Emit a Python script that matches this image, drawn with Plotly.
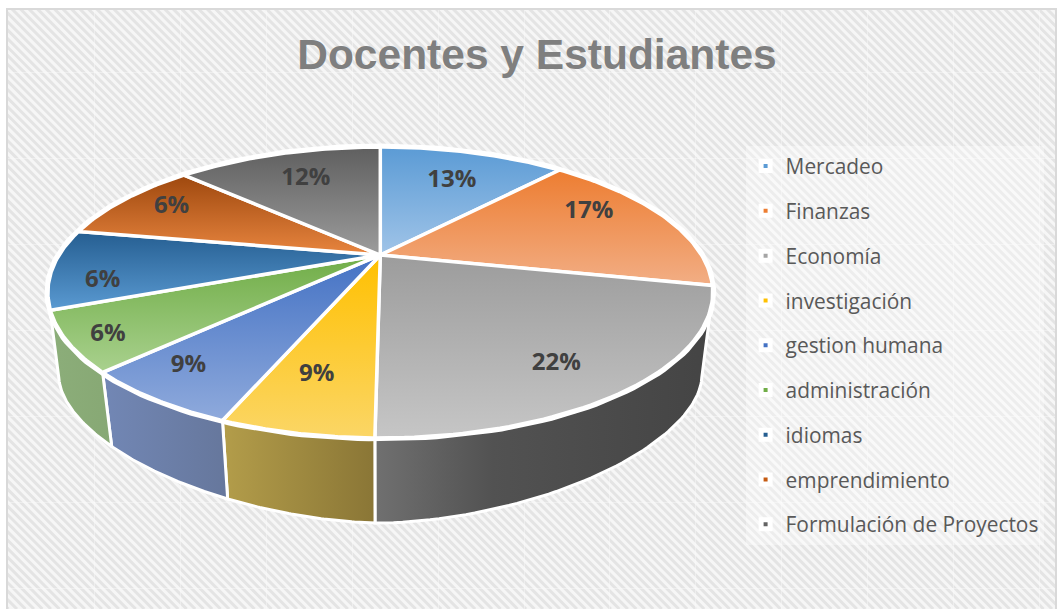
import math
import plotly.graph_objects as go

# Category names and the percentages printed on the chart
categories = ["Mercadeo", "Finanzas", "Economía", "investigación", "gestion humana",
              "administración", "idiomas", "emprendimiento", "Formulación de Proyectos"]
printed_percent = [13, 17, 22, 9, 9, 6, 6, 6, 12]
# Wedge sizes as drawn in the picture, un-projected (they differ from the printed labels)
drawn_share = [11.6, 16.8, 21.8, 5.9, 6.4, 6.5, 8.9, 9.3, 12.8]

legend_colors = ["#5b9bd5", "#ed7d31", "#a5a5a5", "#ffc000", "#4472c4",
                 "#70ad47", "#255e91", "#c55a11", "#636363"]
top_dark = ["#5b9bd5", "#ed7d31", "#9c9c9c", "#ffc000", "#4472c4",
            "#70ad47", "#255e91", "#9e480e", "#5f5f5f"]
top_light = ["#a0c4e8", "#f2ae85", "#c6c6c6", "#fbd666", "#8faadc",
             "#a9d18e", "#5a9ad2", "#e8853f", "#9c9c9c"]
wall_left = {2: "#707070", 3: "#b39d4a", 4: "#7287b5", 5: "#8cae7a"}
wall_right = {2: "#444444", 3: "#8a7636", 4: "#66779c", 5: "#87a874"}

# Projection of the disc (screen units)
W, H = 1057, 609
CX, CY = 381.0, 255.0
PERSP = 0.2577
SX, SY = 321.8, 135.8
BOTTOM_X_SCALE = 0.967
BOTTOM_A, BOTTOM_B, BOTTOM_CY, BOTTOM_N = 322.0, 145.0, 378.0, 1.75
SILHOUETTE_R, SILHOUETTE_L = 105.0, 255.0

LABEL_NUDGE = [(3, 2), (6, -15), (13, 22), (-10, 7), (-46, 18), (-64, 22), (-50, 17), (-24, -8), (1, -1)]


def proj(theta_deg, r=1.0):
    t = math.radians(theta_deg)
    u, v = r * math.sin(t), r * math.cos(t)
    w = 1 + PERSP * v
    return CX + SX * u / w, CY - SY * v / w


def bottom_of(theta_deg):
    x, _ = proj(theta_deg)
    dx = (x - CX) * BOTTOM_X_SCALE
    f = min(abs(dx) / BOTTOM_A, 1.0)
    return CX + dx, BOTTOM_CY + BOTTOM_B * (1 - f ** BOTTOM_N) ** (1 / BOTTOM_N)


def arc(a, b, n=60):
    return [a + (b - a) * i / n for i in range(n + 1)]


total = sum(drawn_share)
edges = [0.0]
for s in drawn_share:
    edges.append(edges[-1] + 360.0 * s / total)

fig = go.Figure()

# Side walls of the front slices
for i in wall_left:
    a = max(edges[i], SILHOUETTE_R)
    b = SILHOUETTE_L if i == max(wall_left) else edges[i + 1]
    top = [proj(t) for t in arc(a, b)]
    bot = [bottom_of(t) for t in arc(b, a)]
    pts = top + bot + top[:1]
    fig.add_trace(go.Scatter(
        x=[p[0] for p in pts], y=[p[1] for p in pts], mode="lines", fill="toself",
        line=dict(color="white", width=3), hoverinfo="skip", showlegend=False,
        fillgradient=dict(type="horizontal",
                          colorscale=[[0, wall_left[i]], [1, wall_right[i]]] if i != 2 else
                          [[0, wall_left[i]], [0.35, "#525252"], [1, wall_right[i]]]),
    ))

# White band under the top face
rim = [proj(t) for t in arc(0, 360, 240)]
fig.add_trace(go.Scatter(x=[p[0] for p in rim], y=[p[1] for p in rim], mode="lines",
                         fill="toself", fillcolor="white",
                         line=dict(color="white", width=7), hoverinfo="skip", showlegend=False))

# Top faces (the y axis runs downwards, so the gradient's 0 end is the lower edge)
for i, name in enumerate(categories):
    pts = [(CX, CY)] + [proj(t) for t in arc(edges[i], edges[i + 1])] + [(CX, CY)]
    fig.add_trace(go.Scatter(
        x=[p[0] for p in pts], y=[p[1] for p in pts], mode="lines", fill="toself",
        line=dict(color="white", width=3.5), hoverinfo="skip", showlegend=False,
        fillgradient=dict(type="vertical", colorscale=[[0, top_light[i]], [1, top_dark[i]]]),
    ))

# Data labels
lx, ly = [], []
for i in range(len(categories)):
    x, y = proj((edges[i] + edges[i + 1]) / 2, 0.7)
    lx.append(x + LABEL_NUDGE[i][0])
    ly.append(y + LABEL_NUDGE[i][1])
fig.add_trace(go.Scatter(
    x=lx, y=ly, mode="text", text=[f"{p}%" for p in printed_percent],
    textposition="middle center", hoverinfo="skip", showlegend=False,
    textfont=dict(family="Open Sans", size=24, color="#404040", weight="bold"),
))

# Legend entries
for i, name in enumerate(categories):
    fig.add_trace(go.Scatter(
        x=[None], y=[None], mode="markers", name=name, legendgroup=name,
        marker=dict(symbol="square", size=9, color=legend_colors[i],
                    line=dict(color="white", width=5)),
    ))

# Diagonal stripes of the background
period = 8.5
stripes = []
x0 = -float(H)
while x0 < W:
    stripes.append(f"M{x0:.1f},0L{x0 + H:.1f},{H}")
    x0 += period

fig.update_layout(
    width=W, height=H, autosize=False,
    margin=dict(l=8, r=0, t=10, b=0),
    paper_bgcolor="white", plot_bgcolor="#f6f6f6",
    title=dict(text="<b>Docentes y Estudiantes</b>", x=0.508, xanchor="center",
               y=1 - 54 / H, yanchor="middle",
               font=dict(family="Liberation Sans", size=42.5, color="#7f7f7f")),
    xaxis=dict(range=[8, W], showticklabels=False, ticks="", zeroline=False, fixedrange=True,
               tick0=9, dtick=86, showgrid=True, gridcolor="rgba(252,252,252,0.4)", gridwidth=1,
               showline=True, mirror=True, linecolor="#d9d9d9", linewidth=2),
    yaxis=dict(range=[H, 10], showticklabels=False, ticks="", zeroline=False, fixedrange=True,
               tick0=-14, dtick=86, showgrid=True, gridcolor="rgba(252,252,252,0.4)", gridwidth=1,
               showline=True, mirror=True, linecolor="#d9d9d9", linewidth=2),
    shapes=[dict(type="path", xref="x", yref="y", layer="below", path="".join(stripes),
                 line=dict(color="#e4e4e4", width=3))],
    legend=dict(x=(747 - 8) / (W - 8), y=1 - (146 - 10) / (H - 10), xanchor="left", yanchor="top",
                bgcolor="rgba(255,255,255,0.35)", borderwidth=0, tracegroupgap=14.6,
                font=dict(family="Open Sans", size=20.9, color="#595959"),
                itemclick=False, itemdoubleclick=False),
)

fig.write_html("out.html", config=dict(displayModeBar=False),
               post_script="document.body.style.margin='0';")
